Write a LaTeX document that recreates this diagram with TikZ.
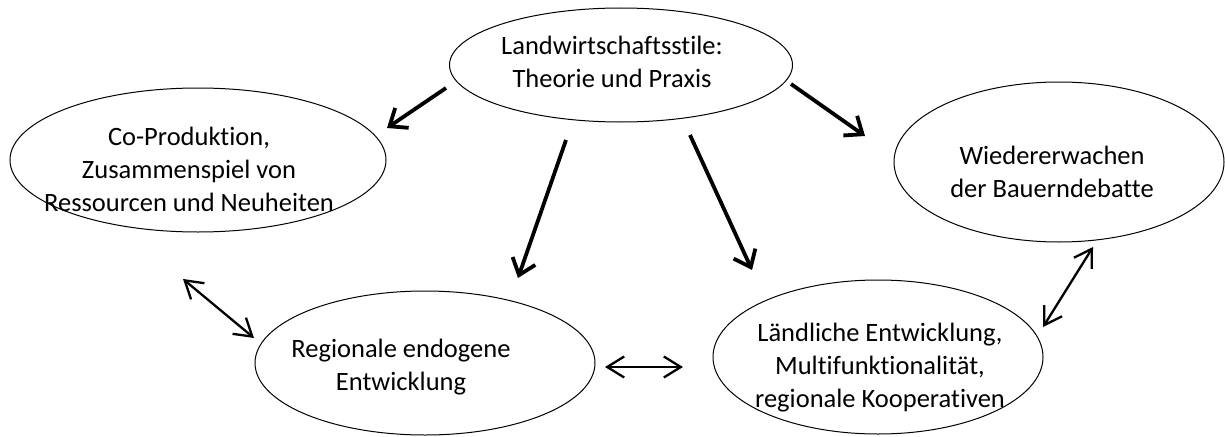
\documentclass[tikz,border=0pt]{standalone}
\usepackage{fontspec}
\setmainfont{Carlito}[Ligatures=NoCommon]
\usetikzlibrary{arrows.meta,shapes.geometric}
\begin{document}
\begin{tikzpicture}[x=1pt,y=-1pt,
  bubble/.style={draw, ellipse, line width=1pt, inner sep=0pt},
  caption/.style={align=center, inner sep=0pt, font=\fontsize{26.5}{33}\selectfont},
  influence/.style={line width=3.8pt, -{Straight Barb[length=15pt,width=24pt]}},
  exchange/.style={line width=2.3pt, {Straight Barb[length=17pt,width=21pt]}-{Straight Barb[length=17pt,width=21pt]}}
]
\useasboundingbox (0,0) rectangle (1225,436);

% ellipses
\node[bubble, minimum width=343pt, minimum height=114pt] (theory) at (621,65) {};
\node[bubble, minimum width=376pt, minimum height=144pt] (coprod) at (198,160) {};
\node[bubble, minimum width=330pt, minimum height=160pt] (debate) at (1059,162) {};
\node[bubble, minimum width=340pt, minimum height=144pt] (regional) at (425,363) {};
\node[bubble, minimum width=330pt, minimum height=154pt] (rural) at (878,357) {};

% texts
\node[caption] (theoryT) at (612,62) {Landwirtschaftsstile:\\Theorie und Praxis};
\node[caption] (coprodT) at (189,169.5) {Co-Produktion,\\Zusammenspiel von\\Ressourcen und Neuheiten};
\node[caption] (debateT) at (1052,171.5) {Wiedererwachen\\der Bauerndebatte};
\node[caption] (regionalT) at (401,367) {Regionale endogene\\Entwicklung};
\node[caption] (ruralT) at (880,368) {Ländliche Entwicklung,\\Multifunktionalität,\\regionale Kooperativen};

% connector end points
\coordinate (a1s) at (446,88);   \coordinate (a1e) at (387,128);
\coordinate (a2s) at (566,140);  \coordinate (a2e) at (518,278);
\coordinate (a3s) at (690,135);  \coordinate (a3e) at (752,270);
\coordinate (a4s) at (791,84);   \coordinate (a4e) at (865,136);
\coordinate (b1s) at (183,279);  \coordinate (b1e) at (254,338);
\coordinate (b2s) at (605,367);  \coordinate (b2e) at (683,367);
\coordinate (b3s) at (1043,327); \coordinate (b3e) at (1093,247);

% one-way influences from the top
\draw[influence] (a1s) -- (a1e);
\draw[influence] (a2s) -- (a2e);
\draw[influence] (a3s) -- (a3e);
\draw[influence] (a4s) -- (a4e);

% mutual relations
\draw[exchange] (b1s) -- (b1e);
\draw[exchange] (b2s) -- (b2e);
\draw[exchange] (b3s) -- (b3e);
\end{tikzpicture}
\end{document}
